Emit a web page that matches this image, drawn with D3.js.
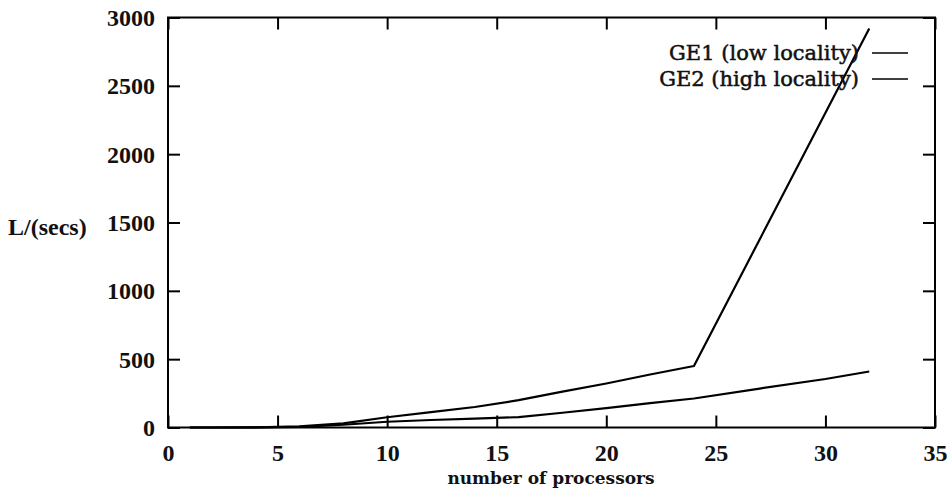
<!DOCTYPE html>
<html><head><meta charset="utf-8">
<script src="https://cdn.jsdelivr.net/npm/d3@7"></script>
<style>html,body{margin:0;padding:0;background:#fff}</style>
</head><body>
<svg id="c" width="951" height="493"></svg>
<script>
const procs = [1, 2, 4, 6, 8, 10, 12, 14, 16, 18, 20, 22, 24, 32];
const ge1 = [0, 0, 1, 8, 30, 75, 112, 150, 200, 262, 322, 388, 450, 2920];
const procs2 = [1, 2, 4, 6, 8, 10, 12, 14, 16, 18, 20, 22, 24, 27, 30, 32];
const ge2 = [0, 0, 1, 5, 20, 42, 55, 65, 76, 108, 142, 178, 212, 285, 355, 410];
const xTicks = [0, 5, 10, 15, 20, 25, 30, 35];
const yTicks = [0, 500, 1000, 1500, 2000, 2500, 3000];
const seriesNames = ["GE1 (low locality)", "GE2 (high locality)"];

const svg = d3.select("#c");
const L = 168, R = 935, T = 17.5, B = 427.5;
const x = d3.scaleLinear().domain([0, 35]).range([L, R]);
const y = d3.scaleLinear().domain([0, 3000]).range([B, T]);
const font = "'Liberation Serif','Times New Roman',serif";
const cm = "'DejaVu Serif',serif";

// frame
svg.append("rect").attr("x", L).attr("y", T).attr("width", R - L).attr("height", B - T)
  .attr("fill", "none").attr("stroke", "#000").attr("stroke-width", 2);

const tl = 12;
const fmt = d3.format("d");
const gx = svg.append("g").attr("transform", `translate(0,${B})`)
  .call(d3.axisBottom(x).tickValues(xTicks).tickFormat(fmt).tickSizeInner(-tl).tickSizeOuter(0).tickPadding(25));
const gxt = svg.append("g").attr("transform", `translate(0,${T})`)
  .call(d3.axisTop(x).tickValues(xTicks).tickSizeInner(-tl).tickSizeOuter(0).tickFormat(""));
const gy = svg.append("g").attr("transform", `translate(${L},0)`)
  .call(d3.axisLeft(y).tickValues(yTicks).tickFormat(fmt).tickSizeInner(-tl).tickSizeOuter(0).tickPadding(13));
const gyr = svg.append("g").attr("transform", `translate(${R},0)`)
  .call(d3.axisRight(y).tickValues(yTicks).tickSizeInner(-tl).tickSizeOuter(0).tickFormat(""));
[gx, gxt, gy, gyr].forEach(g => {
  g.select(".domain").remove();
  g.selectAll(".tick line").attr("stroke", "#000").attr("stroke-width", 2);
  g.selectAll("text").attr("font-family", font).attr("font-weight", "bold")
    .attr("font-size", 24).attr("fill", "#111");
});
gx.selectAll("text").attr("dy", "0.35em");
gy.selectAll("text").attr("dy", "0.33em");

// axis titles
svg.append("text").attr("x", 551).attr("y", 484)
  .attr("text-anchor", "middle").attr("font-family", cm).attr("font-weight", "bold")
  .attr("font-size", 17).attr("fill", "#111").text("number of processors");
svg.append("text").attr("x", 8).attr("y", 235)
  .attr("font-family", font).attr("font-weight", "bold")
  .attr("font-size", 24).attr("fill", "#111").text("L/(secs)");

// lines
const line = d3.line().x(d => x(d[0])).y(d => y(d[1]));
const data1 = procs.map((p, i) => [p, ge1[i]]);
const data2 = procs2.map((p, i) => [p, ge2[i]]);
svg.append("path").datum(data1).attr("d", line).attr("fill", "none")
  .attr("stroke", "#000").attr("stroke-width", 2.2).attr("stroke-linejoin", "round");
svg.append("path").datum(data2).attr("d", line).attr("fill", "none")
  .attr("stroke", "#000").attr("stroke-width", 2.2).attr("stroke-linejoin", "round");

// legend
const legY = [53, 79];
seriesNames.forEach((n, i) => {
  svg.append("text").attr("x", 859).attr("y", legY[i]).attr("dy", "0.33em")
    .attr("text-anchor", "end").attr("font-family", cm)
    .attr("font-size", 21).attr("fill", "#111")
    .attr("stroke", "#111").attr("stroke-width", 0.5).text(n);
  svg.append("line").attr("x1", 872).attr("x2", 908).attr("y1", legY[i]).attr("y2", legY[i])
    .attr("stroke", "#000").attr("stroke-width", 1.5);
});
</script>
</body></html>
